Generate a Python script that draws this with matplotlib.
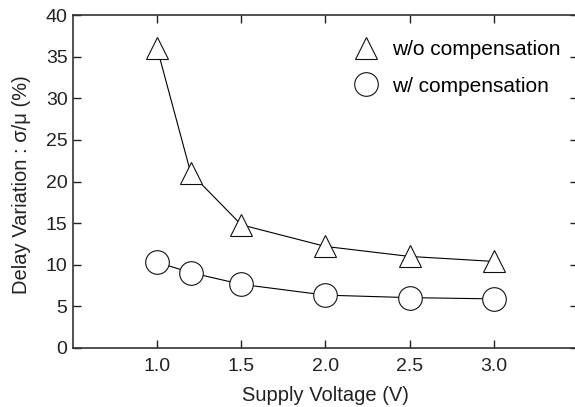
import matplotlib
matplotlib.use("Agg")
import matplotlib.pyplot as plt
from matplotlib.lines import Line2D

voltage = [1.0, 1.2, 1.5, 2.0, 2.5, 3.0]
wo_comp = [36.0, 21.0, 14.8, 12.2, 11.0, 10.4]
w_comp = [10.3, 9.05, 7.65, 6.35, 6.05, 5.9]
xticks = [1.0, 1.5, 2.0, 2.5, 3.0]
yticks = [0, 5, 10, 15, 20, 25, 30, 35, 40]

plt.rcParams['font.family'] = ['Liberation Sans', 'DejaVu Sans']

fig = plt.figure(figsize=(5.75, 4.07), dpi=100)
ax = fig.add_axes([0.127, 0.145, 0.878, 0.818])

ax.plot(voltage, wo_comp, color='black', lw=0.8, marker='^', ms=16.5,
        mfc='white', mec='#111111', mew=0.8)
ax.plot(voltage, w_comp, color='black', lw=0.8, marker='o', ms=17,
        mfc='white', mec='#111111', mew=0.8)

ax.set_xlim(0.5, 3.5)
ax.set_ylim(0, 40)
ax.set_xticks(xticks)
ax.set_xticklabels([f"{t:.1f}" for t in xticks])
ax.set_yticks(yticks)
ax.tick_params(direction='in', top=True, right=True, length=6, width=1,
               labelsize=14, colors='#222222')
ax.tick_params(axis='x', pad=7)
ax.tick_params(axis='y', pad=4)
for s in ax.spines.values():
    s.set_linewidth(1.2)
    s.set_color('#333333')

ax.set_xlabel('Supply Voltage (V)', fontsize=14.5, color='#222222', labelpad=8)
ax.set_ylabel('Delay Variation : σ/μ (%)', fontsize=14.5, color='#222222')
ax.yaxis.set_label_coords(-0.083, 0.49)

handles = [Line2D([], [], ls='none', marker='^', ms=16.5, mfc='white', mec='#111111', mew=0.8),
           Line2D([], [], ls='none', marker='o', ms=17, mfc='white', mec='#111111', mew=0.8)]
ax.legend(handles, ['w/o compensation', 'w/ compensation'], frameon=False,
          loc='upper left', bbox_to_anchor=(0.533, 0.95), fontsize=15,
          handletextpad=0.5, labelspacing=0.85, handlelength=1.5, borderaxespad=0)

fig.savefig('out.png', dpi=100)
